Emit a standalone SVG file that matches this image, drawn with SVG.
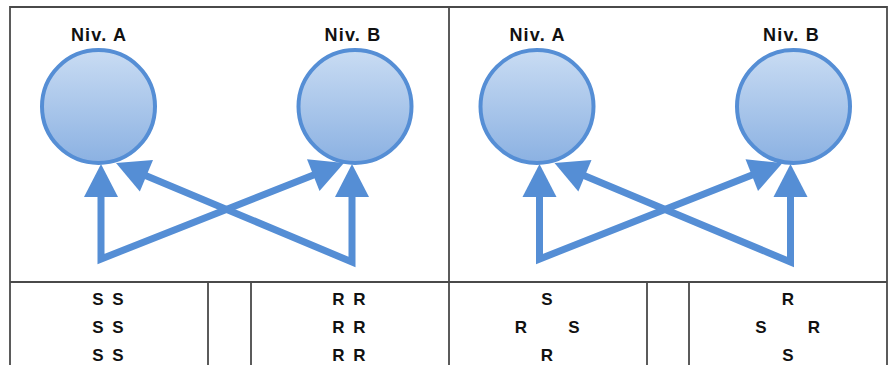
<svg xmlns="http://www.w3.org/2000/svg" width="891" height="365" viewBox="0 0 891 365">
  <defs>
    <linearGradient id="cg" x1="0" y1="0" x2="0" y2="1">
      <stop offset="0" stop-color="#C9DCF3"/>
      <stop offset="1" stop-color="#8BB1E2"/>
    </linearGradient>
    <marker id="ah" markerUnits="userSpaceOnUse" markerWidth="34" markerHeight="36" refX="0" refY="17.5" orient="auto" overflow="visible">
      <path d="M-1,0.5 L32,17.5 L-1,34.5 z" fill="#558ED5"/>
    </marker>
    <marker id="ahs" markerUnits="userSpaceOnUse" markerWidth="34" markerHeight="36" refX="0" refY="17.5" orient="auto-start-reverse" overflow="visible">
      <path d="M-1,0.5 L32,17.5 L-1,34.5 z" fill="#558ED5"/>
    </marker>
  </defs>
  <style>
    .grid { stroke: #4a4a4a; stroke-width: 1.8; fill: none; }
    .node { fill: url(#cg); stroke: #558ED5; stroke-width: 4; }
    .conn { fill: none; stroke: #558ED5; stroke-width: 7; stroke-linejoin: miter; marker-start: url(#ahs); marker-end: url(#ah); }
    .lbl { font-family: "Liberation Sans", Arial, sans-serif; font-weight: bold; font-size: 18px; letter-spacing: 1.2px; fill: #111; text-anchor: middle; }
    .cell { font-family: "Liberation Sans", Arial, sans-serif; font-weight: bold; font-size: 17px; word-spacing: 4px; fill: #111; text-anchor: middle; }
  </style>
  <rect width="891" height="365" fill="#ffffff"/>

  <g id="table">
    <path class="grid" d="M10,372 L10,7 L887,7 L887,372 M449,7 L449,372 M10,282 L887,282 M208,282 L208,372 M251,282 L251,372 M647,282 L647,372 M689,282 L689,372"/>
  </g>

  <g id="panel-left">
    <g id="left-nodeA">
      <circle class="node" cx="98.5" cy="106.5" r="56.5"/>
      <text class="lbl" x="99" y="41">Niv. A</text>
    </g>
    <g id="left-nodeB">
      <circle class="node" cx="355" cy="106.5" r="56.5"/>
      <text class="lbl" x="353" y="41">Niv. B</text>
    </g>
    <g id="left-connectors">
      <path class="conn" d="M101,196 L101,259 L314.2,174.8"/>
      <path class="conn" d="M352,196 L352,262 L145.5,175.4"/>
    </g>
  </g>

  <g id="panel-right" transform="translate(438.5,0)">
    <g id="right-nodeA">
      <circle class="node" cx="98.5" cy="106.5" r="56.5"/>
      <text class="lbl" x="99" y="41">Niv. A</text>
    </g>
    <g id="right-nodeB">
      <circle class="node" cx="355" cy="106.5" r="56.5"/>
      <text class="lbl" x="353" y="41">Niv. B</text>
    </g>
    <g id="right-connectors">
      <path class="conn" d="M101,196 L101,259 L314.2,174.8"/>
      <path class="conn" d="M352,196 L352,262 L145.5,175.4"/>
    </g>
  </g>

  <g id="cells">
    <text class="cell" x="108" y="305">S S</text>
    <text class="cell" x="108" y="333">S S</text>
    <text class="cell" x="108" y="361">S S</text>
    <text class="cell" x="349" y="305">R R</text>
    <text class="cell" x="349" y="333">R R</text>
    <text class="cell" x="349" y="361">R R</text>
    <text class="cell" x="547" y="305">S</text>
    <text class="cell" x="521" y="333">R</text>
    <text class="cell" x="574" y="333">S</text>
    <text class="cell" x="547" y="361">R</text>
    <text class="cell" x="788" y="305">R</text>
    <text class="cell" x="761" y="333">S</text>
    <text class="cell" x="814" y="333">R</text>
    <text class="cell" x="788" y="361">S</text>
  </g>
</svg>
